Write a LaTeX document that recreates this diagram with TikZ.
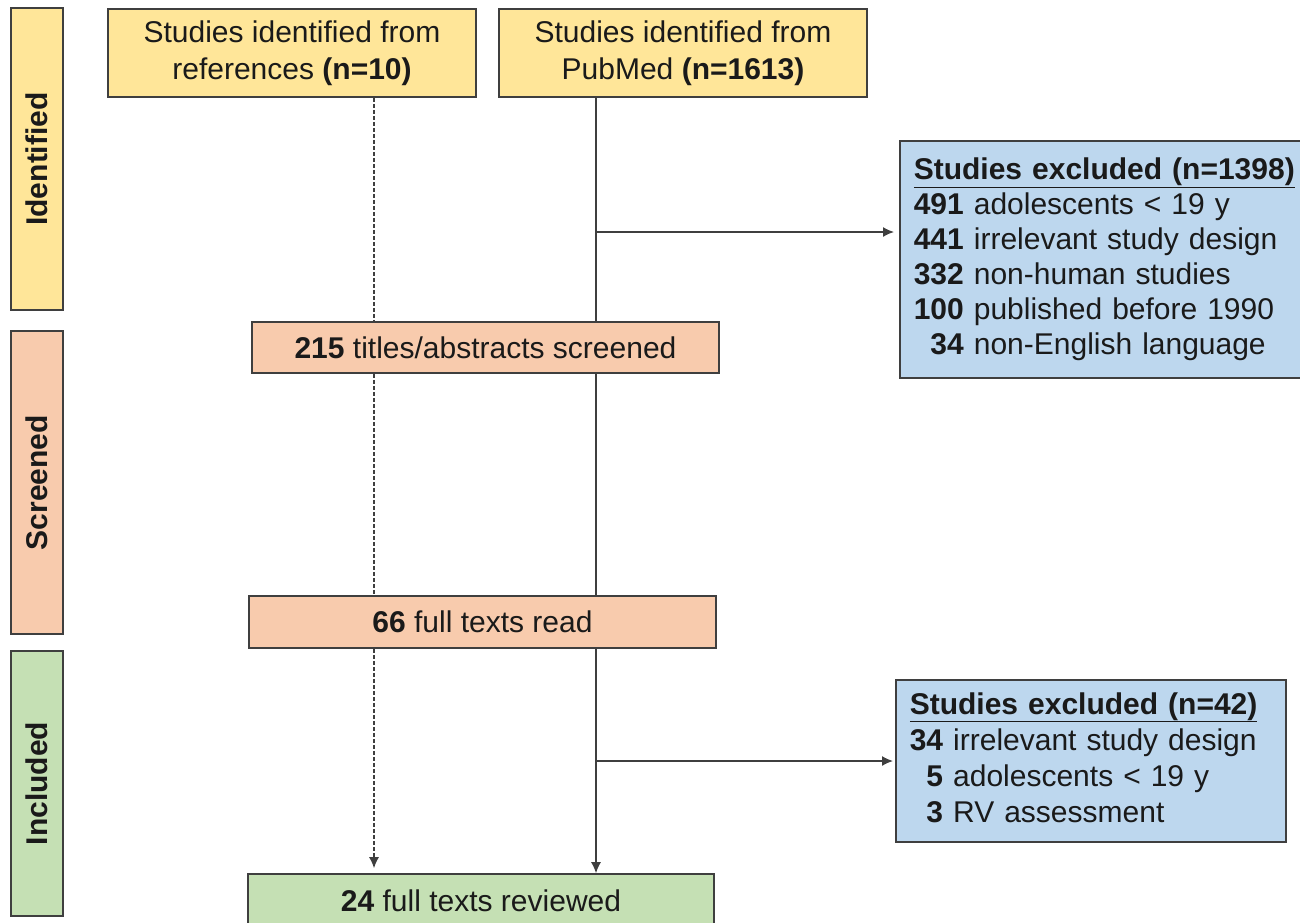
\documentclass[tikz,border=0pt]{standalone}
\usepackage{fontspec}
\setmainfont{Liberation Sans}
\usetikzlibrary{arrows.meta}
\definecolor{ylw}{HTML}{FFE699}
\definecolor{peach}{HTML}{F8CBAD}
\definecolor{grn}{HTML}{C5E0B4}
\definecolor{blu}{HTML}{BDD7EE}
\definecolor{edge}{HTML}{3F3F3F}
\definecolor{ink}{HTML}{1A1A1A}
\tikzset{
  box/.style={draw=edge, line width=1.6pt, inner sep=0pt, align=center,
    text=ink, font=\fontsize{30}{37}\selectfont},
  sidebar/.style={box, rotate=90, minimum height=52, font=\fontsize{30}{36}\selectfont\bfseries},
  conn/.style={draw=edge, line width=1.4pt},
  dconn/.style={conn, dash pattern=on 4pt off 2pt},
  tip/.style={-{Latex[length=11pt,width=10pt]}},
}
\begin{document}
\begin{tikzpicture}[x=1pt,y=-1pt]
\useasboundingbox (0,0) rectangle (1300,922);
% side bars
\node[sidebar, fill=ylw, minimum width=302] (sid) at (37,159) {Identified};
\node[sidebar, fill=peach, minimum width=303] (ssc) at (37,482.5) {Screened};
\node[sidebar, fill=grn, minimum width=265] (sin) at (37,783.5) {Included};
% main boxes
\node[box, fill=ylw, minimum width=368, minimum height=88] (refs) at (292,53)
  {Studies identified from\\references \textbf{(n=10)}};
\node[box, fill=ylw, minimum width=368, minimum height=88] (pub) at (683,53)
  {Studies identified from\\PubMed \textbf{(n=1613)}};
\node[box, fill=peach, minimum width=467, minimum height=51] (s215) at (485.5,347.5)
  {\textbf{215} titles/abstracts screened};
\node[box, fill=peach, minimum width=467, minimum height=52] (f66) at (482.5,622)
  {\textbf{66} full texts read};
\node[box, fill=grn, minimum width=466, minimum height=54] (r24) at (481,901)
  {\textbf{24} full texts reviewed};
% exclusion boxes
\node[box, fill=blu, anchor=north west, text width=378, inner xsep=14pt,
      minimum height=237, align=left, font=\fontsize{30}{35}\selectfont] (ex1) at (899,140)
  {\underline{\textbf{Studies excluded (n=1398)}}\\
   \textbf{491} adolescents < 19 y\\
   \textbf{441} irrelevant study design\\
   \textbf{332} non-human studies\\
   \textbf{100} published before 1990\\
   \hphantom{0}\textbf{34} non-English language};
\node[box, fill=blu, anchor=north west, text width=362, inner xsep=14pt,
      minimum height=162, align=left, font=\fontsize{30}{36}\selectfont] (ex2) at (895,679)
  {\begin{tabular}{@{}l@{}}
   \multicolumn{1}{@{}c@{}}{\underline{\textbf{Studies excluded (n=42)}}}\\
   \textbf{34} irrelevant study design\\
   \hphantom{0}\textbf{5} adolescents < 19 y\\
   \hphantom{0}\textbf{3} RV assessment
   \end{tabular}};
% connectors
\coordinate (dx) at (374,0);
\coordinate (sx) at (596,0);
\coordinate (b1) at (596,232);
\coordinate (b2) at (596,761);
\draw[dconn] (refs.south -| dx) -- (s215.north -| dx);
\draw[dconn] (s215.south -| dx) -- (f66.north -| dx);
\draw[dconn, tip, shorten >=5pt] (f66.south -| dx) -- (r24.north -| dx);
\draw[conn] (pub.south -| sx) -- (s215.north -| sx);
\draw[conn] (s215.south -| sx) -- (f66.north -| sx);
\draw[conn, tip] (f66.south -| sx) -- (r24.north -| sx);
\draw[conn, tip, shorten >=5pt] (b1) -- (b1 -| ex1.west);
\draw[conn, tip, shorten >=2pt] (b2) -- (b2 -| ex2.west);
\end{tikzpicture}
\end{document}
